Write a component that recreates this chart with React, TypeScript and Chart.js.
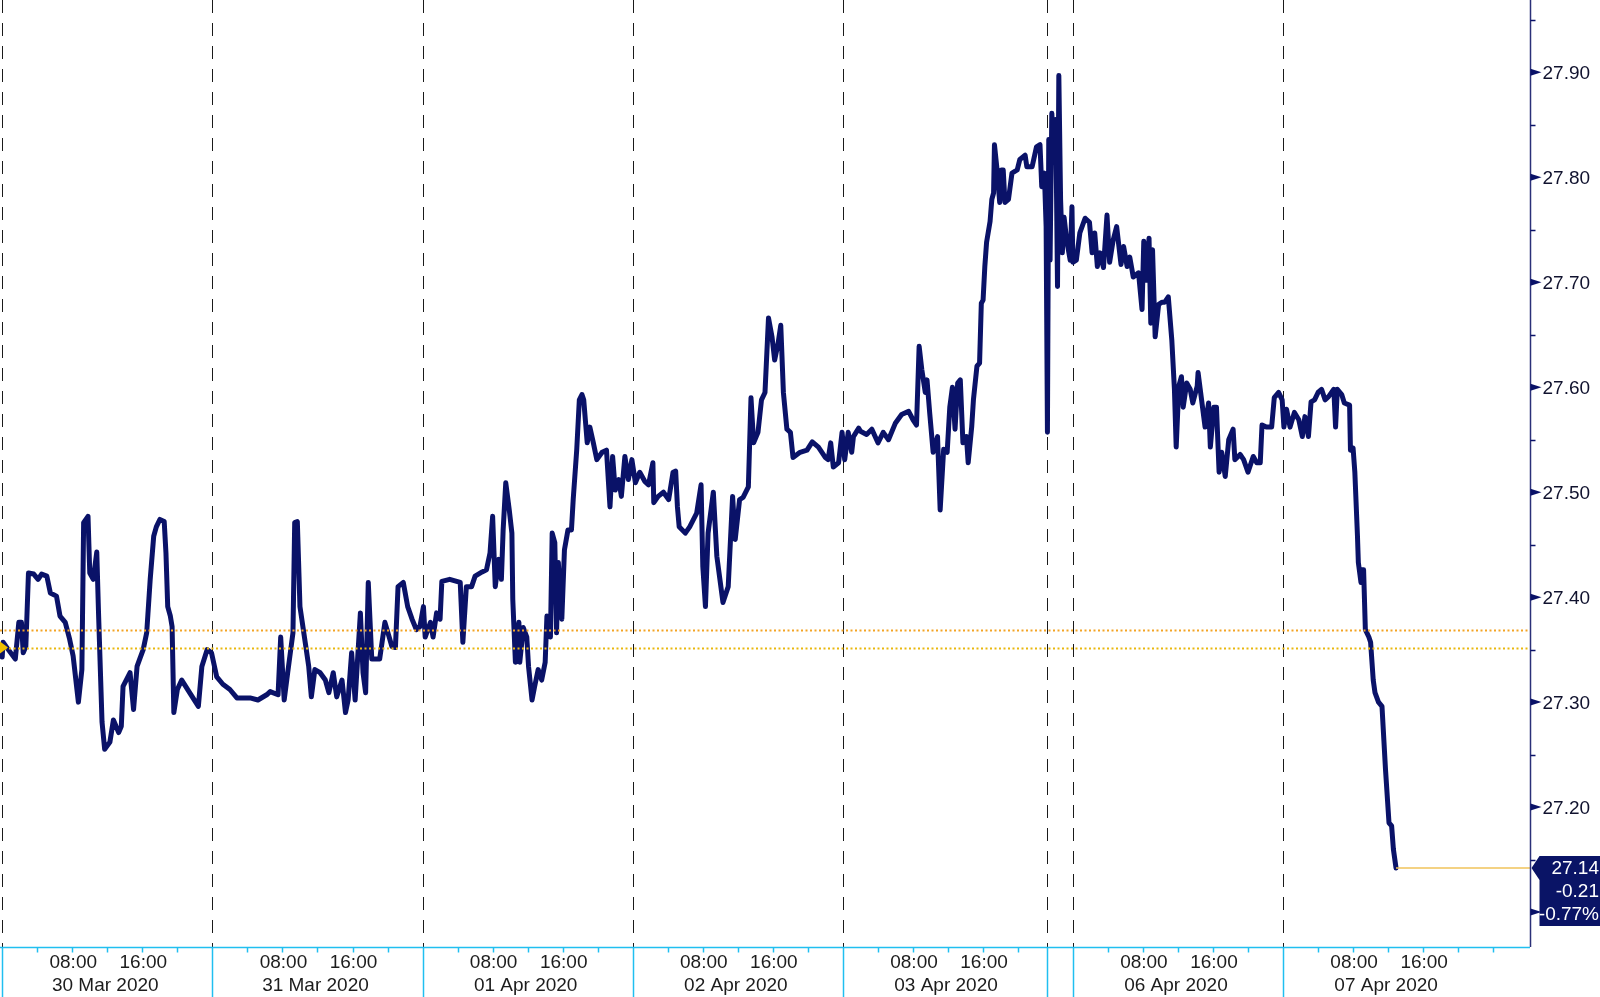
import React, { useEffect, useRef } from 'react';
import { Chart, registerables } from 'chart.js';

Chart.register(...registerables);

// Time in hours since Mon 30 Mar 2020 00:00 (real clock time)
const hours: number[] = [
  0.0, 0.1, 0.7, 1.5, 1.9, 2.2, 2.4, 2.7, 3.0, 3.6, 4.1, 4.5, 5.1, 5.5, 6.2, 6.6, 7.2, 7.7, 8.1, 8.7,
  9.1, 9.3, 9.8, 10.0, 10.4, 10.8, 11.0, 11.4, 11.7, 12.3, 12.7, 13.3, 13.6, 13.8, 14.6, 15.0, 15.4, 15.7, 16.1, 16.5,
  16.9, 17.3, 17.6, 18.0, 18.5, 18.7, 18.9, 19.2, 19.4, 19.6, 20.0, 20.5, 21.4, 22.4, 22.8, 23.4, 23.9,
  24.5, 25.2, 26.0, 26.8, 28.3, 29.2, 30.2, 30.6, 31.5, 31.8, 32.2, 32.6, 32.9, 33.2, 33.4, 33.7, 34.0, 34.6, 35.0,
  35.3, 35.7, 36.3, 36.9, 37.3, 37.8, 38.2, 38.8, 39.2, 39.5, 39.9, 40.3, 40.9, 41.2, 41.5, 41.8, 42.2, 43.1, 43.7,
  44.5, 44.9, 45.2, 45.8, 46.3, 46.8, 47.3, 47.7,
  48.1, 48.3, 48.9, 49.2, 49.6, 50.0, 50.2, 51.1, 52.3, 52.6, 53.0, 53.6, 54.0, 54.8, 55.3, 55.7, 56.0, 56.3, 56.7,
  57.0, 57.2, 57.5, 57.9, 58.2, 58.3, 58.6, 59.0, 59.1, 59.5, 59.9, 60.1, 60.5, 60.8, 61.2, 61.6, 62.0, 62.2, 62.6,
  62.8, 63.1, 63.3, 63.5, 63.9, 64.2, 64.6, 65.0, 65.2, 65.6, 65.9, 66.2, 66.4, 66.8, 67.1, 67.5, 67.9, 68.5, 69.0,
  69.4, 69.7, 70.0, 70.4, 70.7, 71.1, 71.5, 71.9,
  72.3, 72.8, 73.4, 73.8, 74.3, 74.4, 74.9, 75.5, 76.1, 76.6, 76.9, 77.1, 77.3, 78.0, 78.5, 79.3, 79.8, 80.0, 80.3,
  80.6, 81.2, 81.6, 82.3, 82.9, 83.4, 83.7, 84.2, 84.6, 85.2, 85.5, 85.8, 86.3, 86.7, 87.1, 87.5, 87.9, 88.2, 88.6,
  88.9, 89.2, 89.6, 90.0, 90.3, 91.1, 91.9, 92.5, 93.2, 94.0, 94.3, 94.6, 94.9, 95.5, 95.9,
  96.2, 96.6, 97.0, 97.2, 97.8, 98.0, 98.7, 99.3, 100.0, 100.6, 101.2, 102.0, 102.7, 103.5, 104.0, 104.4, 104.7,
  105.0, 105.4, 105.6, 105.9, 106.3, 106.8, 107.1, 107.5, 107.9, 108.2, 108.5, 108.8, 109.1, 109.4, 109.7, 110.1,
  110.3, 110.7, 110.9, 111.3, 111.6, 111.8, 112.0, 112.2, 112.4, 112.8, 113.0, 113.2, 113.3, 113.6, 113.9, 114.1,
  114.3, 114.5, 114.9, 115.3, 115.9, 116.2, 116.8, 117.0, 117.6, 118.1, 118.5, 118.7, 119.0, 119.2,
  165.1, 165.25, 165.4, 165.6, 165.85, 166.05, 166.25, 166.4, 166.6, 166.8, 167.0, 167.3, 167.7, 167.9,
  168.0, 168.4, 168.8, 169.4, 169.9, 170.2, 170.5, 170.8, 171.1, 171.5, 171.9, 172.2, 172.6, 173.0, 173.5, 173.8,
  174.2, 174.5, 174.9, 175.5, 175.9, 176.1, 176.4, 176.7, 176.9, 177.1, 177.4, 177.8, 178.2, 178.5, 178.9, 179.3,
  179.6, 179.8, 180.1, 180.4, 180.6, 181.0, 181.4, 181.7, 182.2, 182.3, 182.7, 183.1, 183.5, 183.7, 184.1, 184.4,
  184.7, 185.0, 185.4, 185.8, 186.3, 186.5, 187.1, 187.5, 188.0, 188.6, 189.0, 189.4, 189.6, 190.1, 190.7, 191.0,
  191.5, 191.9,
  192.1, 192.4, 192.8, 193.3, 193.8, 194.2, 194.5, 194.9, 195.2, 195.6, 196.0, 196.4, 196.8, 197.2, 197.8, 198.0,
  198.2, 198.7, 199.0, 199.6, 199.7, 200.0, 200.2, 200.5, 200.6, 200.9, 201.0, 201.2, 201.4, 201.8, 202.0, 202.3,
  202.5, 202.9, 203.3, 203.7, 204.1, 204.4, 204.6, 204.9,
];

const prices: number[] = [
  27.343, 27.357, 27.350, 27.341, 27.376, 27.376, 27.347, 27.353, 27.423, 27.422, 27.417, 27.422, 27.420, 27.404, 27.401, 27.382, 27.376, 27.360, 27.344, 27.300,
  27.331, 27.471, 27.477, 27.423, 27.417, 27.443, 27.385, 27.281, 27.255, 27.262, 27.283, 27.271, 27.277, 27.315, 27.328, 27.293, 27.334, 27.341, 27.350, 27.366,
  27.417, 27.458, 27.467, 27.474, 27.472, 27.442, 27.391, 27.382, 27.372, 27.290, 27.312, 27.321, 27.309, 27.296, 27.334, 27.350, 27.347,
  27.324, 27.317, 27.312, 27.304, 27.304, 27.302, 27.307, 27.310, 27.307, 27.362, 27.302, 27.328, 27.347, 27.366, 27.471, 27.472, 27.391, 27.357, 27.334,
  27.305, 27.331, 27.328, 27.321, 27.309, 27.328, 27.305, 27.321, 27.290, 27.302, 27.347, 27.302, 27.385, 27.328, 27.309, 27.414, 27.341, 27.341, 27.376,
  27.353, 27.352, 27.410, 27.414, 27.391, 27.379, 27.369, 27.372,
  27.391, 27.362, 27.376, 27.362, 27.385, 27.379, 27.415, 27.417, 27.414, 27.357, 27.410, 27.410, 27.420, 27.424, 27.426, 27.442, 27.477, 27.410, 27.436,
  27.417, 27.464, 27.509, 27.483, 27.461, 27.398, 27.338, 27.376, 27.338, 27.371, 27.362, 27.334, 27.302, 27.315, 27.331, 27.321, 27.338, 27.382, 27.362,
  27.461, 27.452, 27.366, 27.433, 27.379, 27.445, 27.464, 27.464, 27.493, 27.540, 27.588, 27.593, 27.588, 27.547, 27.562, 27.547, 27.531, 27.538, 27.540,
  27.486, 27.534, 27.502, 27.512, 27.496, 27.534, 27.512, 27.531,
  27.509, 27.519, 27.510, 27.507, 27.528, 27.490, 27.496, 27.500, 27.493, 27.519, 27.520, 27.486, 27.467, 27.461, 27.467, 27.480, 27.507, 27.429, 27.391,
  27.461, 27.500, 27.439, 27.395, 27.410, 27.496, 27.455, 27.493, 27.495, 27.505, 27.590, 27.547, 27.557, 27.588, 27.595, 27.666, 27.648, 27.626, 27.642,
  27.659, 27.595, 27.560, 27.557, 27.533, 27.538, 27.540, 27.548, 27.543, 27.533, 27.531, 27.547, 27.524, 27.528, 27.557,
  27.531, 27.557, 27.538, 27.553, 27.561, 27.558, 27.555, 27.560, 27.547, 27.557, 27.550, 27.566, 27.574, 27.577, 27.569, 27.564, 27.639,
  27.617, 27.595, 27.607, 27.576, 27.538, 27.553, 27.483, 27.541, 27.538, 27.581, 27.600, 27.560, 27.604, 27.607, 27.547, 27.553,
  27.528, 27.562, 27.588, 27.620, 27.623, 27.680, 27.683, 27.715, 27.738, 27.758, 27.779, 27.785, 27.831, 27.807, 27.776, 27.807,
  27.807, 27.776, 27.779, 27.804, 27.807, 27.817, 27.821, 27.810, 27.810, 27.829, 27.831, 27.791, 27.804, 27.753,
  27.557, 27.836, 27.721, 27.861, 27.817, 27.855, 27.696, 27.897, 27.779, 27.728, 27.762, 27.740, 27.721, 27.772,
  27.719, 27.721, 27.747, 27.761, 27.757, 27.728, 27.747, 27.715, 27.728, 27.714, 27.764, 27.719, 27.740, 27.753, 27.717, 27.734,
  27.715, 27.724, 27.705, 27.709, 27.674, 27.739, 27.702, 27.742, 27.661, 27.731, 27.648, 27.679, 27.681, 27.681, 27.686, 27.645,
  27.598, 27.543, 27.601, 27.610, 27.581, 27.604, 27.598, 27.585, 27.601, 27.614, 27.588, 27.562, 27.585, 27.543, 27.581, 27.581,
  27.519, 27.538, 27.515, 27.550, 27.560, 27.531, 27.536, 27.531, 27.519, 27.534, 27.528, 27.528, 27.564, 27.562, 27.562, 27.590,
  27.595, 27.588,
  27.562, 27.579, 27.562, 27.576, 27.569, 27.553, 27.572, 27.553, 27.586, 27.588, 27.595, 27.598, 27.588, 27.591, 27.598, 27.562,
  27.598, 27.593, 27.585, 27.583, 27.540, 27.542, 27.519, 27.458, 27.433, 27.414, 27.426, 27.426, 27.369, 27.362, 27.357, 27.321,
  27.309, 27.300, 27.296, 27.236, 27.185, 27.182, 27.160, 27.142,
];

// Reference levels
const openLevel = 27.369;
const prevClose = 27.352;
const lastLabel = ['27.14', '-0.21', '-0.77%'];

// Calendar: day starts in real hours, labels
const dayStartHours: number[] = [0, 24, 48, 72, 96, 168, 192];
const dayLabels: string[] = ['30 Mar 2020', '31 Mar 2020', '01 Apr 2020', '02 Apr 2020', '03 Apr 2020', '06 Apr 2020', '07 Apr 2020'];
const hourLabelOffsets: number[] = [8, 16];
const hourLabels: string[] = ['08:00', '16:00'];
const fridayClose = 119.25; // last Friday session hour
const sundayOpen = 165.0; // Sunday session open hour
const extraTickHours: number[] = [216];

// Y ticks
const yMajorTicks: number[] = [27.1, 27.2, 27.3, 27.4, 27.5, 27.6, 27.7, 27.8, 27.9];
const yMinorTicks: number[] = [27.15, 27.25, 27.35, 27.45, 27.55, 27.65, 27.75, 27.85, 27.95];

const X_MIN = -0.25;
const X_MAX = 174.45;
const Y_MIN = 27.0667;
const Y_MAX = 27.9689;

const NAVY = '#0a1268';
const CYAN = '#20bff0';
const FONT = '19px "Liberation Sans", Arial, sans-serif';

function toAxis(h: number): number {
  return h > fridayClose ? h - (sundayOpen - fridayClose) : h;
}

const overlayPlugin = {
  id: 'bbgOverlay',
  beforeDatasetsDraw(chart: any) {
    const { ctx, chartArea, scales } = chart;
    const x = scales.x;
    ctx.save();
    ctx.strokeStyle = '#1a1a1a';
    ctx.lineWidth = 1;
    ctx.setLineDash([13, 10]);
    const lines = [...dayStartHours.map(toAxis), fridayClose];
    for (const v of lines) {
      const px = Math.round(x.getPixelForValue(v)) + 0.5;
      ctx.beginPath();
      ctx.moveTo(px, chartArea.top);
      ctx.lineTo(px, chartArea.bottom + 5);
      ctx.stroke();
    }
    ctx.restore();
  },
  afterDatasetsDraw(chart: any) {
    const { ctx, chartArea, scales } = chart;
    const x = scales.x;
    const y = scales.y;
    const W = chart.width;
    const H = chart.height;
    ctx.save();

    // dotted reference lines
    ctx.lineWidth = 2;
    ctx.setLineDash([2, 2.5]);
    const refs: [number, string][] = [[openLevel, '#f3a424'], [prevClose, '#e9b80e']];
    for (const [v, c] of refs) {
      const py = Math.round(y.getPixelForValue(v)) + 0.5;
      ctx.strokeStyle = c;
      ctx.beginPath();
      ctx.moveTo(chartArea.left, py);
      ctx.lineTo(chartArea.right, py);
      ctx.stroke();
    }
    ctx.setLineDash([]);

    // last price line
    const lastX = x.getPixelForValue(toAxis(hours[hours.length - 1]));
    const lastY = y.getPixelForValue(prices[prices.length - 1]);
    ctx.strokeStyle = '#f0c35a';
    ctx.lineWidth = 1.5;
    ctx.beginPath();
    ctx.moveTo(lastX, lastY);
    ctx.lineTo(chartArea.right, lastY);
    ctx.stroke();

    // start marker
    const sy = y.getPixelForValue(prevClose);
    ctx.fillStyle = '#f0c000';
    ctx.beginPath();
    ctx.moveTo(0, sy - 6);
    ctx.lineTo(8, sy);
    ctx.lineTo(0, sy + 6);
    ctx.closePath();
    ctx.fill();

    // y axis line
    const ax = chartArea.right + 0.5;
    ctx.strokeStyle = '#2b3078';
    ctx.lineWidth = 1.5;
    ctx.beginPath();
    ctx.moveTo(ax, 0);
    ctx.lineTo(ax, chartArea.bottom);
    ctx.stroke();

    // minor ticks
    ctx.strokeStyle = NAVY;
    ctx.lineWidth = 1.5;
    for (const v of yMinorTicks) {
      const py = Math.round(y.getPixelForValue(v)) + 0.5;
      ctx.beginPath();
      ctx.moveTo(ax, py);
      ctx.lineTo(ax + 5, py);
      ctx.stroke();
    }
    // major ticks (arrows) and labels
    ctx.font = FONT;
    ctx.textBaseline = 'middle';
    ctx.textAlign = 'left';
    for (const v of yMajorTicks) {
      const py = y.getPixelForValue(v);
      ctx.fillStyle = NAVY;
      ctx.beginPath();
      ctx.moveTo(ax, py - 3.5);
      ctx.lineTo(ax + 11, py);
      ctx.lineTo(ax, py + 3.5);
      ctx.closePath();
      ctx.fill();
      ctx.fillStyle = '#10122e';
      ctx.fillText(v.toFixed(2), ax + 12, py + 1.5);
    }

    // x axis
    const by = chartArea.bottom + 0.5;
    ctx.strokeStyle = CYAN;
    ctx.lineWidth = 1.5;
    ctx.beginPath();
    ctx.moveTo(0, by);
    ctx.lineTo(chartArea.right, by);
    ctx.stroke();

    // long separators
    ctx.lineWidth = 1.5;
    const seps = [...dayStartHours.map(toAxis), fridayClose];
    for (const v of seps) {
      const px = Math.round(x.getPixelForValue(v)) + 0.5;
      ctx.beginPath();
      ctx.moveTo(px, by);
      ctx.lineTo(px, H);
      ctx.stroke();
    }
    // 4-hour ticks
    const tickHours: number[] = [];
    for (const d of dayStartHours) {
      for (let k = 4; k < 24; k += 4) {
        const h = d + k;
        if (d === 96 && h > fridayClose) continue;
        tickHours.push(h);
      }
    }
    tickHours.push(...extraTickHours);
    for (const h of tickHours) {
      const px = Math.round(x.getPixelForValue(toAxis(h))) + 0.5;
      if (px > chartArea.right) continue;
      ctx.beginPath();
      ctx.moveTo(px, by);
      ctx.lineTo(px, by + 5);
      ctx.stroke();
    }

    // labels
    ctx.fillStyle = '#1c1c1c';
    ctx.textAlign = 'center';
    ctx.font = FONT;
    dayStartHours.forEach((d, i) => {
      hourLabelOffsets.forEach((off, j) => {
        const px = x.getPixelForValue(toAxis(d + off));
        ctx.fillText(hourLabels[j], px + 1, by + 15.5);
      });
      const mid = x.getPixelForValue(toAxis(d + 12));
      ctx.fillText(dayLabels[i], mid - 2, by + 38);
    });

    // last value box
    const bx = chartArea.right + 1.5;
    const ly = lastY;
    ctx.fillStyle = '#0a1466';
    ctx.beginPath();
    ctx.moveTo(bx, ly);
    ctx.lineTo(bx + 8, ly - 12);
    ctx.lineTo(W, ly - 12);
    ctx.lineTo(W, ly + 58);
    ctx.lineTo(bx + 8, ly + 58);
    ctx.lineTo(bx + 8, ly + 12);
    ctx.closePath();
    ctx.fill();
    ctx.fillStyle = '#ffffff';
    ctx.textAlign = 'right';
    ctx.font = FONT;
    lastLabel.forEach((t, i) => {
      ctx.fillText(t, W - 1, ly + 1 + i * 22.8);
    });

    ctx.restore();
  },
};

export default function App() {
  const canvasRef = useRef<HTMLCanvasElement | null>(null);

  useEffect(() => {
    document.body.style.margin = '0';
    const canvas = canvasRef.current;
    if (!canvas) return;
    const points = hours.map((h, i) => ({ x: toAxis(h), y: prices[i] }));
    const chart = new Chart(canvas, {
      type: 'line',
      data: {
        datasets: [
          {
            data: points,
            borderColor: NAVY,
            borderWidth: 5,
            pointRadius: 0,
            tension: 0,
            borderJoinStyle: 'round',
            borderCapStyle: 'round',
            fill: false,
          },
        ],
      },
      options: {
        responsive: false,
        animation: false,
        devicePixelRatio: 1,
        parsing: true,
        layout: { padding: { left: 0, top: 0, right: 70, bottom: 50 } },
        plugins: { legend: { display: false }, tooltip: { enabled: false } },
        scales: {
          x: { type: 'linear', display: false, min: X_MIN, max: X_MAX },
          y: { type: 'linear', display: false, min: Y_MIN, max: Y_MAX },
        },
      },
      plugins: [overlayPlugin],
    } as any);
    return () => chart.destroy();
  }, []);

  return (
    <div style={{ position: 'absolute', left: 0, top: 0, width: 1600, height: 997, background: '#fff' }}>
      <canvas ref={canvasRef} width={1600} height={997} style={{ display: 'block' }} />
    </div>
  );
}
